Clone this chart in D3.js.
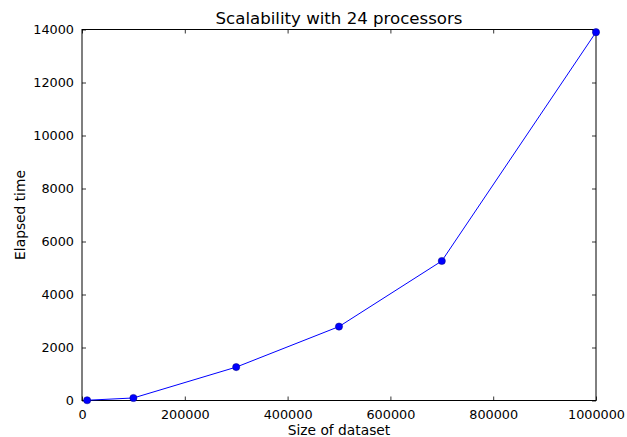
<!DOCTYPE html>
<html>
<head>
<meta charset="utf-8">
<script src="https://cdn.jsdelivr.net/npm/d3@7"></script>
<style>
  body { margin: 0; background: #fff; }
  text { font-family: "DejaVu Sans", sans-serif; }
</style>
</head>
<body>
<script>
"use strict";

const width = 627;
const height = 437;
const sizes = [10000, 100000, 300000, 500000, 700000, 1000000];
const times = [10, 95, 1260, 2790, 5265, 13900];
const xTicks = [0, 200000, 400000, 600000, 800000, 1000000];
const yTicks = [0, 2000, 4000, 6000, 8000, 10000, 12000, 14000];

const margin = { left: 82, right: 31, top: 29.5, bottom: 36.5 };

const svg = d3
  .select("body")
  .append("svg")
  .attr("width", width)
  .attr("height", height);

const x = d3.scaleLinear().domain([0, 1000000]).range([margin.left, width - margin.right]);
const y = d3.scaleLinear().domain([0, 14000]).range([height - margin.bottom, margin.top]);

// axes with inward ticks on all four sides
function styleAxis(g) {
  g.select(".domain").remove();
  g.selectAll("line").attr("stroke", "#000").attr("stroke-width", 0.8);
  g.selectAll("text").attr("font-size", 12.8).attr("fill", "#000");
}

svg.append("g")
  .attr("transform", `translate(0,${y(0)})`)
  .call(d3.axisBottom(x).tickValues(xTicks).tickFormat(d3.format("d")).tickSizeInner(-4).tickPadding(9))
  .call(styleAxis);

svg.append("g")
  .attr("transform", `translate(0,${y(14000)})`)
  .call(d3.axisTop(x).tickValues(xTicks).tickSizeInner(-4).tickFormat(""))
  .call(styleAxis);

svg.append("g")
  .attr("transform", `translate(${x(0)},0)`)
  .call(d3.axisLeft(y).tickValues(yTicks).tickFormat(d3.format("d")).tickSizeInner(-4).tickPadding(8))
  .call(styleAxis);

svg.append("g")
  .attr("transform", `translate(${x(1000000)},0)`)
  .call(d3.axisRight(y).tickValues(yTicks).tickSizeInner(-4).tickFormat(""))
  .call(styleAxis);

svg.append("rect")
  .attr("x", x(0))
  .attr("y", y(14000))
  .attr("width", x(1000000) - x(0))
  .attr("height", y(0) - y(14000))
  .attr("fill", "none")
  .attr("stroke", "#000")
  .attr("stroke-width", 1);

const pts = sizes.map((s, i) => [s, times[i]]);

svg.append("path")
  .datum(pts)
  .attr("fill", "none")
  .attr("stroke", "#0000ff")
  .attr("stroke-width", 1)
  .attr("d", d3.line().x(d => x(d[0])).y(d => y(d[1])));

svg.selectAll("circle")
  .data(pts)
  .enter()
  .append("circle")
  .attr("cx", d => x(d[0]))
  .attr("cy", d => y(d[1]))
  .attr("r", 3.6)
  .attr("fill", "#0000ff")
  .attr("stroke", "#000080")
  .attr("stroke-width", 0.5);

// Labels
svg.append("text")
  .attr("x", (x(0) + x(1000000)) / 2)
  .attr("y", 24)
  .attr("text-anchor", "middle")
  .attr("font-size", 16.6)
  .text("Scalability with 24 processors");

svg.append("text")
  .attr("x", (x(0) + x(1000000)) / 2)
  .attr("y", 435)
  .attr("text-anchor", "middle")
  .attr("font-size", 13.8)
  .text("Size of dataset");

svg.append("text")
  .attr("transform", `translate(25,${(y(0) + y(14000)) / 2}) rotate(-90)`)
  .attr("text-anchor", "middle")
  .attr("font-size", 13.8)
  .text("Elapsed time");
</script>
</body>
</html>
